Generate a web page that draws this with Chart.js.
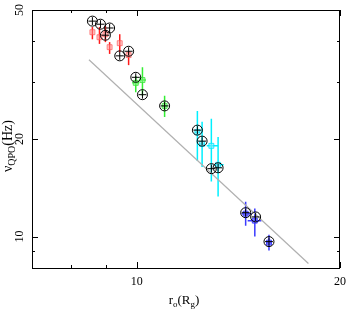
<!DOCTYPE html>
<html>
<head>
<meta charset="utf-8">
<script src="https://cdn.jsdelivr.net/npm/chart.js@4.4.1/dist/chart.umd.min.js"></script>
<style>
  html, body { margin: 0; padding: 0; background: #fff; }
</style>
</head>
<body>
<canvas id="qpo-radius" width="354" height="315"></canvas>
<script>
// open circles (all sources)
const ringRadius = [8.60, 8.84, 9.12, 8.99, 9.44, 9.73, 9.97, 10.2, 11.0, 12.3, 12.5, 12.9, 13.2, 14.5, 15.0, 15.7];
const ringFreq = [46.2, 45.2, 44.0, 41.8, 36.1, 37.3, 31.0, 27.4, 25.3, 21.3, 19.7, 16.2, 16.3, 11.85, 11.5, 9.65];

// red squares
const redRadius = [8.60, 8.81, 8.99, 9.12, 9.44, 9.73];
const redFreq = [42.7, 41.2, 42.1, 38.4, 39.5, 36.3];
const redFreqLo = [40.6, 39.3, 39.8, 36.6, 37.1, 33.8];
const redFreqHi = [44.3, 44.3, 44.6, 39.8, 42.1, 37.3];

// green squares
const greenRadius = [9.97, 10.2, 11.0];
const greenFreq = [29.8, 30.4, 25.3];
const greenFreqLo = [27.9, 27.2, 23.4];
const greenFreqHi = [31.3, 33.3, 27.2];
const greenRadLo = [9.85, 10.08, 10.9];
const greenRadHi = [10.09, 10.32, 11.1];

// cyan squares
const cyanRadius = [12.3, 12.5, 12.9, 13.2];
const cyanFreq = [21.0, 19.3, 19.05, 16.65];
const cyanFreqLo = [17.1, 16.4, 14.8, 13.3];
const cyanFreqHi = [24.4, 22.6, 23.1, 20.3];
const cyanRadLo = [12.2, 12.4, 12.7, 13.05];
const cyanRadHi = [12.4, 12.6, 13.2, 13.45];

// blue squares
const blueRadius = [14.5, 14.96, 15.7];
const blueFreq = [11.77, 11.2, 9.58];
const blueFreqLo = [10.8, 10.0, 9.06];
const blueFreqHi = [12.8, 12.2, 10.14];
const blueRadLo = [14.3, 14.6, 15.55];
const blueRadHi = [14.8, 15.3, 15.85];

// fitted relation (grey line end points)
const fitRadius = [8.50, 17.96];
const fitFreq = [35.1, 8.26];

// axis ticks
const xMajorTicks = [10, 20];
const xMinorTicks = [8, 9];
const yMajorTicks = [10, 20, 50];
const yMinorTicks = [9, 30, 40];

const serif = '"Liberation Serif", "DejaVu Serif", serif';

function toPoints(xs, ys) {
    return xs.map((v, i) => ({ x: v, y: ys[i] }));
}

const errorSets = [
    { color: '#ff1a1a', x: redRadius, y: redFreq, lo: redFreqLo, hi: redFreqHi },
    { color: '#33ee33', x: greenRadius, y: greenFreq, lo: greenFreqLo, hi: greenFreqHi, xlo: greenRadLo, xhi: greenRadHi },
    { color: '#00f0ff', x: cyanRadius, y: cyanFreq, lo: cyanFreqLo, hi: cyanFreqHi, xlo: cyanRadLo, xhi: cyanRadHi },
    { color: '#3b3bff', x: blueRadius, y: blueFreq, lo: blueFreqLo, hi: blueFreqHi, xlo: blueRadLo, xhi: blueRadHi }
];

// vertical / horizontal error bars
const errorBars = {
    id: 'errorBars',
    beforeDatasetsDraw(chart) {
        const { ctx, scales: { x, y } } = chart;
        ctx.save();
        ctx.lineWidth = 1.5;
        errorSets.forEach((s) => {
            ctx.strokeStyle = s.color;
            s.x.forEach((xv, i) => {
                const px = x.getPixelForValue(xv);
                const py = y.getPixelForValue(s.y[i]);
                ctx.beginPath();
                ctx.moveTo(px, y.getPixelForValue(s.lo[i]));
                ctx.lineTo(px, y.getPixelForValue(s.hi[i]));
                if (s.xlo) {
                    ctx.moveTo(x.getPixelForValue(s.xlo[i]), py);
                    ctx.lineTo(x.getPixelForValue(s.xhi[i]), py);
                }
                ctx.stroke();
            });
        });
        ctx.restore();
    }
};

function drawRich(ctx, parts, size) {
    // parts: [text, isSub], drawn centred on 0 at the baseline
    const subSize = Math.round(size * 0.7);
    let total = 0;
    parts.forEach(([t, sub]) => {
        ctx.font = (sub ? subSize : size) + 'px ' + serif;
        total += ctx.measureText(t).width;
    });
    let cx = -total / 2;
    parts.forEach(([t, sub]) => {
        ctx.font = (sub ? subSize : size) + 'px ' + serif;
        ctx.fillText(t, cx, sub ? 3 : 0);
        cx += ctx.measureText(t).width;
    });
}

// frame, inward ticks, tick labels and axis titles
const frame = {
    id: 'frame',
    afterDraw(chart) {
        const { ctx, chartArea: a, scales: { x, y } } = chart;
        ctx.save();
        ctx.strokeStyle = '#000';
        ctx.lineWidth = 1;
        ctx.strokeRect(a.left + 0.5, a.top + 0.5, a.right - a.left - 1, a.bottom - a.top);

        ctx.beginPath();
        const xt = xMajorTicks.map((v) => [v, 6]).concat(xMinorTicks.map((v) => [v, 3]));
        xt.forEach(([v, len]) => {
            const px = Math.round(x.getPixelForValue(v)) + 0.5;
            ctx.moveTo(px, a.bottom); ctx.lineTo(px, a.bottom - len);
            ctx.moveTo(px, a.top); ctx.lineTo(px, a.top + len);
        });
        const yt = yMajorTicks.map((v) => [v, 6]).concat(yMinorTicks.map((v) => [v, 3]));
        yt.forEach(([v, len]) => {
            const py = Math.round(y.getPixelForValue(v)) + 0.5;
            ctx.moveTo(a.left, py); ctx.lineTo(a.left + len, py);
            ctx.moveTo(a.right, py); ctx.lineTo(a.right - len, py);
        });
        ctx.stroke();

        ctx.fillStyle = '#000';
        ctx.font = '12px ' + serif;
        ctx.textAlign = 'center';
        ctx.textBaseline = 'middle';
        xMajorTicks.forEach((v) => {
            ctx.fillText(String(v), x.getPixelForValue(v), a.bottom + 14);
        });
        yMajorTicks.forEach((v) => {
            ctx.save();
            ctx.translate(20, y.getPixelForValue(v));
            ctx.rotate(-Math.PI / 2);
            ctx.fillText(String(v), 0, 0);
            ctx.restore();
        });

        ctx.textAlign = 'left';
        ctx.textBaseline = 'alphabetic';
        ctx.save();
        ctx.translate(184, 304);
        drawRich(ctx, [['r', false], ['o', true], ['(R', false], ['g', true], [')', false]], 13);
        ctx.restore();

        ctx.save();
        ctx.translate(12, 146);
        ctx.rotate(-Math.PI / 2);
        drawRich(ctx, [['\u03bd', false], ['QPO', true], ['(Hz)', false]], 14);
        ctx.restore();

        ctx.restore();
    }
};

const ctx = document.getElementById('qpo-radius');

new Chart(ctx, {
    type: 'scatter',
    data: {
        datasets: [
            {
                label: 'crosses',
                data: toPoints(ringRadius, ringFreq),
                pointStyle: 'cross',
                pointRadius: 4,
                borderColor: '#000',
                borderWidth: 1
            },
            {
                label: 'circles',
                data: toPoints(ringRadius, ringFreq),
                pointStyle: 'circle',
                pointRadius: 5,
                borderColor: '#000',
                backgroundColor: 'rgba(0,0,0,0)',
                borderWidth: 1
            },
            {
                label: 'red',
                data: toPoints(redRadius, redFreq),
                pointStyle: 'rect',
                pointRadius: 3.5,
                borderColor: 'rgba(255,90,90,0.7)',
                backgroundColor: 'rgba(255,150,150,0.5)',
                borderWidth: 1
            },
            {
                label: 'green',
                data: toPoints(greenRadius, greenFreq),
                pointStyle: 'rect',
                pointRadius: 3.5,
                borderColor: 'rgba(60,230,60,0.8)',
                backgroundColor: 'rgba(120,240,120,0.6)',
                borderWidth: 1
            },
            {
                label: 'cyan',
                data: toPoints(cyanRadius, cyanFreq),
                pointStyle: 'rect',
                pointRadius: 3.5,
                borderColor: 'rgba(0,230,255,0.8)',
                backgroundColor: 'rgba(120,240,255,0.6)',
                borderWidth: 1
            },
            {
                label: 'blue',
                data: toPoints(blueRadius, blueFreq),
                pointStyle: 'rect',
                pointRadius: 3.5,
                borderColor: 'rgba(60,60,255,0.9)',
                backgroundColor: 'rgba(90,90,255,0.7)',
                borderWidth: 1
            },
            {
                label: 'fit',
                type: 'line',
                data: toPoints(fitRadius, fitFreq),
                borderColor: '#b0b0b0',
                borderWidth: 1.2,
                pointRadius: 0,
                fill: false
            }
        ]
    },
    options: {
        responsive: false,
        animation: false,
        layout: { padding: { left: 32, top: 10, right: 14, bottom: 47 } },
        plugins: {
            legend: { display: false },
            tooltip: { enabled: false }
        },
        scales: {
            x: { type: 'logarithmic', min: 7, max: 20, display: false },
            y: { type: 'logarithmic', min: 8, max: 50, display: false }
        }
    },
    plugins: [errorBars, frame]
});
</script>
</body>
</html>
